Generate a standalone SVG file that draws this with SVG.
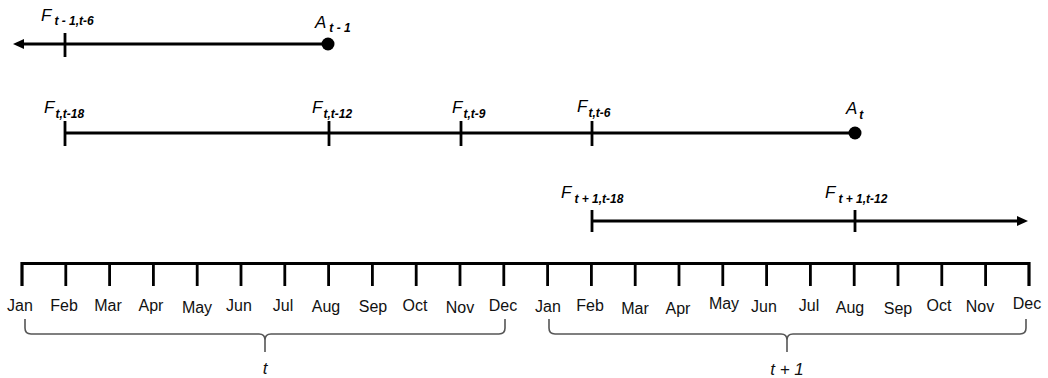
<svg xmlns="http://www.w3.org/2000/svg" width="1048" height="378" viewBox="0 0 1048 378">
  <style>
    .bar { stroke: #000; stroke-width: 3.2; fill: none; }
    .tick { stroke: #000; stroke-width: 2.8; fill: none; }
    .dot { fill: #000; }
    .brace { stroke: #555; stroke-width: 1.6; fill: none; }
    .sym { font-family: "Liberation Sans", Arial, sans-serif; font-style: italic; font-size: 17px; fill: #000; }
    .sub { font-size: 12px; font-weight: bold; }
    .mon { font-family: "Liberation Sans", Arial, sans-serif; font-size: 16px; fill: #111; text-anchor: middle; }
    .per { font-family: "Liberation Sans", Arial, sans-serif; font-style: italic; font-size: 17px; fill: #111; text-anchor: middle; }
  </style>
  <defs>
    <marker id="head" markerUnits="userSpaceOnUse" markerWidth="12" markerHeight="10" refX="1" refY="5" orient="auto">
      <path d="M0,0 L11,5 L0,10 Z" fill="#000"/>
    </marker>
  </defs>
  <rect width="1048" height="378" fill="#fff"/>

  <!-- forecast horizons drawn as bars -->
  <g id="connectors">
    <line class="bar" x1="328" y1="44" x2="23" y2="44" marker-end="url(#head)"/>
    <line class="bar" x1="65" y1="133" x2="855" y2="133"/>
    <line class="bar" x1="592" y1="221" x2="1018" y2="221" marker-end="url(#head)"/>
  </g>

  <!-- year t-1 -->
  <g id="f-tm1-t6">
    <line class="tick" x1="65" y1="33" x2="65" y2="57"/>
    <text class="sym" x="41" y="21">F<tspan class="sub" dx="3" dy="4">t - 1,t-6</tspan></text>
  </g>
  <g id="a-tm1">
    <circle class="dot" cx="328" cy="44" r="6.5"/>
    <text class="sym" x="315" y="28">A<tspan class="sub" dx="3" dy="4">t - 1</tspan></text>
  </g>

  <!-- year t -->
  <g id="f-t-t18">
    <line class="tick" x1="65" y1="121" x2="65" y2="146"/>
    <text class="sym" x="44" y="113">F<tspan class="sub" dx="1" dy="5">t,t-18</tspan></text>
  </g>
  <g id="f-t-t12">
    <line class="tick" x1="329" y1="121" x2="329" y2="146"/>
    <text class="sym" x="312" y="113">F<tspan class="sub" dx="1" dy="5">t,t-12</tspan></text>
  </g>
  <g id="f-t-t9">
    <line class="tick" x1="461" y1="121" x2="461" y2="146"/>
    <text class="sym" x="452" y="113">F<tspan class="sub" dx="1" dy="5">t,t-9</tspan></text>
  </g>
  <g id="f-t-t6">
    <line class="tick" x1="592" y1="121" x2="592" y2="146"/>
    <text class="sym" x="577" y="112">F<tspan class="sub" dx="1" dy="5">t,t-6</tspan></text>
  </g>
  <g id="a-t">
    <circle class="dot" cx="855" cy="133" r="6.5"/>
    <text class="sym" x="846" y="114">A<tspan class="sub" dx="2" dy="5">t</tspan></text>
  </g>

  <!-- year t+1 -->
  <g id="f-tp1-t18">
    <line class="tick" x1="592" y1="210" x2="592" y2="232"/>
    <text class="sym" x="561" y="198">F<tspan class="sub" dx="3" dy="5">t + 1,t-18</tspan></text>
  </g>
  <g id="f-tp1-t12">
    <line class="tick" x1="855" y1="210" x2="855" y2="232"/>
    <text class="sym" x="825" y="198">F<tspan class="sub" dx="3" dy="5">t + 1,t-12</tspan></text>
  </g>

  <!-- month axis -->
  <g id="axis">
    <path class="bar" d="M22,286 V263.5 H1029 V286"/>
    <path class="tick" d="M65.8,263.5 V286 M109.6,263.5 V286 M153.4,263.5 V286 M197.2,263.5 V286 M241,263.5 V286 M284.8,263.5 V286 M328.6,263.5 V286 M372.4,263.5 V286 M416.2,263.5 V286 M460,263.5 V286 M503.8,263.5 V286 M547.6,263.5 V286 M591.4,263.5 V286 M635.2,263.5 V286 M679,263.5 V286 M722.8,263.5 V286 M766.6,263.5 V286 M810.4,263.5 V286 M854.2,263.5 V286 M898,263.5 V286 M941.8,263.5 V286 M985.6,263.5 V286"/>
    <text class="mon" x="20" y="311">Jan</text>
    <text class="mon" x="64" y="311">Feb</text>
    <text class="mon" x="108" y="311">Mar</text>
    <text class="mon" x="151" y="311">Apr</text>
    <text class="mon" x="197" y="313">May</text>
    <text class="mon" x="239" y="311">Jun</text>
    <text class="mon" x="283" y="311">Jul</text>
    <text class="mon" x="326" y="312">Aug</text>
    <text class="mon" x="373" y="312">Sep</text>
    <text class="mon" x="415" y="311">Oct</text>
    <text class="mon" x="460" y="313">Nov</text>
    <text class="mon" x="503" y="311">Dec</text>
    <text class="mon" x="548" y="312">Jan</text>
    <text class="mon" x="590" y="311">Feb</text>
    <text class="mon" x="635" y="314">Mar</text>
    <text class="mon" x="678" y="314">Apr</text>
    <text class="mon" x="724" y="309">May</text>
    <text class="mon" x="764" y="312">Jun</text>
    <text class="mon" x="809" y="311">Jul</text>
    <text class="mon" x="850" y="313">Aug</text>
    <text class="mon" x="898" y="314">Sep</text>
    <text class="mon" x="939" y="311">Oct</text>
    <text class="mon" x="980" y="312">Nov</text>
    <text class="mon" x="1027" y="309">Dec</text>
  </g>

  <!-- year braces -->
  <g id="year-t">
    <path class="brace" d="M25,319 V328 Q25,334 31,334 H259 Q265,334 265,340 Q265,334 271,334 H499 Q505,334 505,328 V319 M265,340 V352"/>
    <text class="per" x="265" y="374">t</text>
  </g>
  <g id="year-t1">
    <path class="brace" d="M549,319 V328 Q549,334 555,334 H781 Q787,334 787,340 Q787,334 793,334 H1020 Q1026,334 1026,328 V319 M787,340 V352"/>
    <text class="per" x="787" y="375">t + 1</text>
  </g>
</svg>
